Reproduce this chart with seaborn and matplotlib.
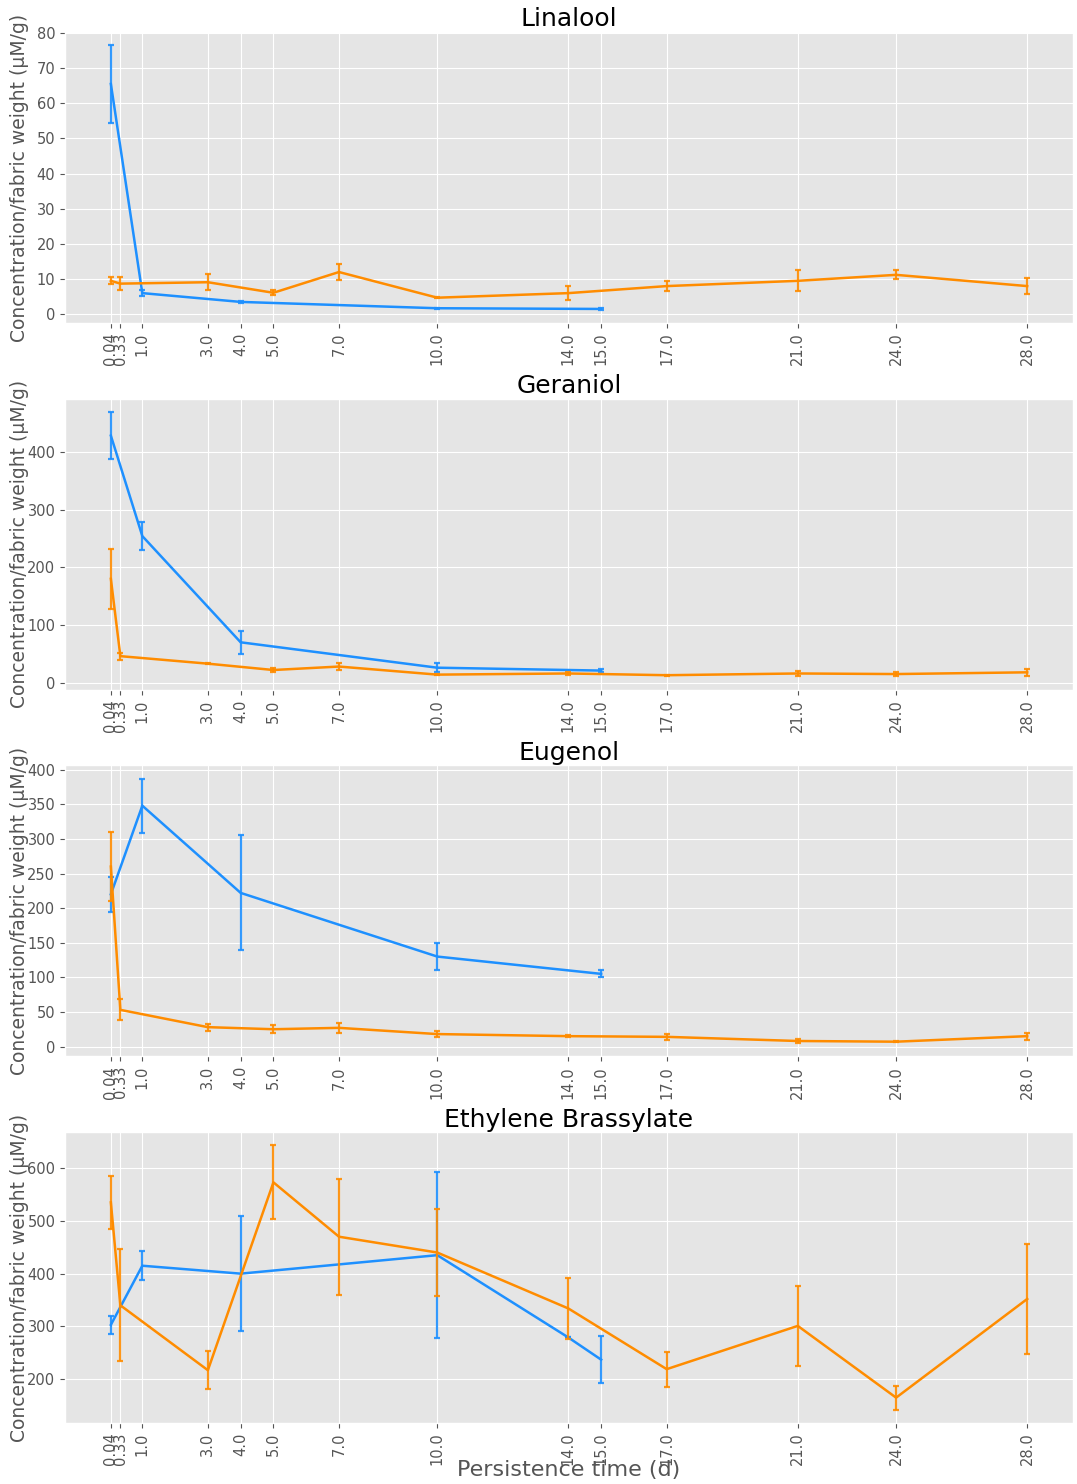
import matplotlib
matplotlib.use("Agg")
import matplotlib.pyplot as plt
import numpy as np
import pandas as pd
import seaborn as sns

# x positions (days)
x_blue = [0.04, 1.0, 4.0, 10.0, 15.0]
x_blue_eb = [0.04, 1.0, 4.0, 10.0, 14.0, 15.0]
x_orange = [0.04, 0.33, 3.0, 5.0, 7.0, 10.0, 14.0, 17.0, 21.0, 24.0, 28.0]
tick_days = [0.04, 0.33, 1.0, 3.0, 4.0, 5.0, 7.0, 10.0, 14.0, 15.0, 17.0, 21.0, 24.0, 28.0]
tick_labels = ["0.04", "0.33", "1.0", "3.0", "4.0", "5.0", "7.0", "10.0",
               "14.0", "15.0", "17.0", "21.0", "24.0", "28.0"]

compounds = ["Linalool", "Geraniol", "Eugenol", "Ethylene Brassylate"]

# Linalool
lin_blue = [65.5, 6.0, 3.5, 1.7, 1.5]
lin_blue_err = [11.0, 0.9, 0.4, 0.2, 0.2]
lin_orange = [9.5, 8.7, 9.1, 6.1, 12.0, 4.7, 6.0, 8.0, 9.5, 11.2, 8.0]
lin_orange_err = [1.0, 1.8, 2.2, 0.7, 2.4, 0.2, 2.0, 1.5, 3.0, 1.3, 2.3]

# Geraniol
ger_blue = [428, 254, 70, 26, 21]
ger_blue_err = [41, 24, 20, 8, 2]
ger_orange = [180, 46, 33, 22, 28, 14, 16, 13, 16, 15, 18]
ger_orange_err = [52, 6, 1, 4, 6, 1, 3, 1, 5, 3, 6]

# Eugenol
eug_blue = [220, 348, 222, 130, 105]
eug_blue_err = [25, 39, 83, 20, 5]
eug_orange = [260, 53, 28, 25, 27, 18, 15, 14, 8, 7, 15]
eug_orange_err = [50, 15, 5, 6, 7, 4, 1, 4, 3, 1, 5]

# Ethylene Brassylate
eb_blue = [303, 415, 400, 435, 279, 237]
eb_blue_err = [17, 27, 109, 157, 0, 45]
eb_orange = [535, 340, 217, 573, 470, 440, 334, 219, 301, 165, 352]
eb_orange_err = [50, 106, 36, 70, 110, 82, 57, 33, 76, 23, 104]

series = [
    (x_blue, lin_blue, lin_blue_err, lin_orange, lin_orange_err),
    (x_blue, ger_blue, ger_blue_err, ger_orange, ger_orange_err),
    (x_blue, eug_blue, eug_blue_err, eug_orange, eug_orange_err),
    (x_blue_eb, eb_blue, eb_blue_err, eb_orange, eb_orange_err),
]

BLUE = "#1E90FF"
ORANGE = "#FF8C00"

plt.style.use("ggplot")
fig, axes = plt.subplots(4, 1, figsize=(10.77, 14.84), dpi=100)
fig.subplots_adjust(left=0.0604, right=0.9963, top=0.9784, bottom=0.0411, hspace=0.261)

for ax, name, (xb, yb, eb, yo, eo) in zip(axes, compounds, series):
    df_b = pd.DataFrame({"day": xb, "value": yb})
    df_o = pd.DataFrame({"day": x_orange, "value": yo})
    sns.lineplot(data=df_b, x="day", y="value", ax=ax, color=BLUE, lw=1.8)
    ax.errorbar(xb, yb, yerr=eb, fmt="none", ecolor=BLUE, elinewidth=1.6,
                capsize=2, capthick=1.6, alpha=0.9)
    sns.lineplot(data=df_o, x="day", y="value", ax=ax, color=ORANGE, lw=1.8)
    ax.errorbar(x_orange, yo, yerr=eo, fmt="none", ecolor=ORANGE, elinewidth=1.6,
                capsize=2, capthick=1.6, alpha=0.9)
    ax.set_xticks(tick_days)
    ax.set_xticklabels(tick_labels, rotation=90, fontsize=10.5)
    ax.tick_params(axis="y", labelsize=10.5)
    ax.set_title(name, fontsize=18, color="black", pad=4)
    ax.set_ylabel("Concentration/fabric weight (µM/g)", fontsize=13.5, color="#555555")
    ax.yaxis.set_label_coords(-0.0357, 0.5)
    ax.set_xlabel("")

fig.text(0.528, 0.0094, "Persistence time (d)", fontsize=16, color="#555555",
         ha="center", va="center")

fig.savefig("out.png", dpi=100)
